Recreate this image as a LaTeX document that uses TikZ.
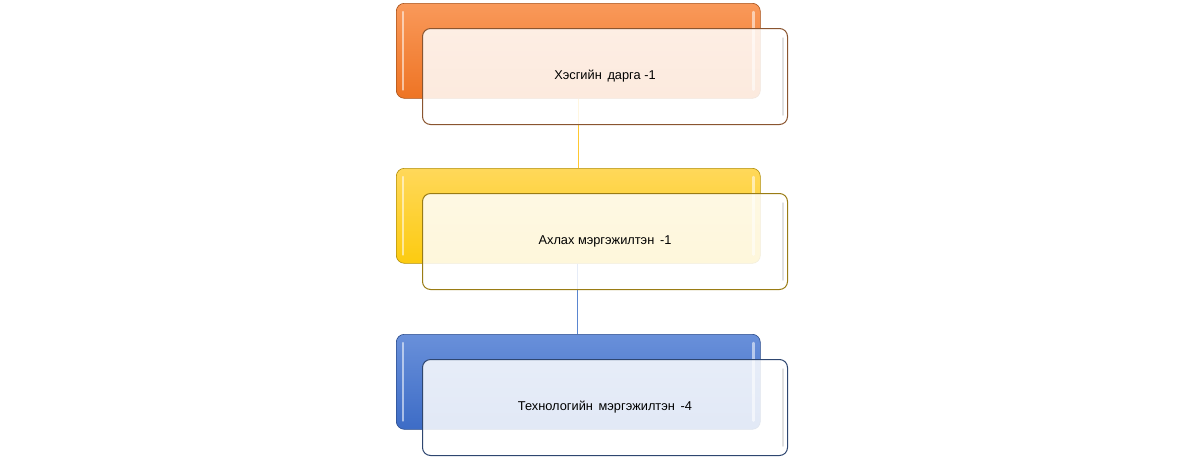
\documentclass[tikz,border=0pt]{standalone}
\usepackage{fontspec}
\setmainfont{Liberation Sans}
\definecolor{orA}{HTML}{F9995A}
\definecolor{orB}{HTML}{EE7424}
\definecolor{orE}{HTML}{8A5530}
\definecolor{yeA}{HTML}{FFD85A}
\definecolor{yeB}{HTML}{FCCB10}
\definecolor{yeE}{HTML}{9A7C14}
\definecolor{blA}{HTML}{6990DA}
\definecolor{blB}{HTML}{3D6CC6}
\definecolor{blE}{HTML}{2E4670}
\definecolor{lnY}{HTML}{FFC830}
\definecolor{lnB}{HTML}{5A86D0}
\tikzset{
  backbox/.style={rounded corners=8pt, minimum width=364pt, minimum height=95pt, inner sep=0pt, anchor=north west, draw=#1!70!black, line width=0.6pt},
  frontbox/.style={rounded corners=8pt, minimum width=365pt, minimum height=96pt, inner sep=0pt, anchor=north west, draw=#1, line width=1pt, fill=white, fill opacity=0.85, text opacity=1, font=\fontsize{12.8}{15}\selectfont},
  link/.style={line width=1.2pt}
}
\begin{document}
\begin{tikzpicture}[x=1pt,y=-1pt]
\useasboundingbox (0,0) rectangle (1181,459);
% back boxes
\node[backbox=orB, top color=orA, bottom color=orB] (b1) at (396,3) {};
\node[backbox=yeB, top color=yeA, bottom color=yeB] (b2) at (396,168) {};
\node[backbox=blB, top color=blA, bottom color=blB] (b3) at (396,334) {};
% gloss highlights
\foreach \b in {b1,b2,b3}{
  \draw[white, opacity=0.55, line width=2.5pt, line cap=round] ([xshift=7pt,yshift=-9pt]\b.north west) -- ([xshift=7pt,yshift=9pt]\b.south west);
  \draw[white, opacity=0.55, line width=2.5pt, line cap=round] ([xshift=-7pt,yshift=-9pt]\b.north east) -- ([xshift=-7pt,yshift=9pt]\b.south east);
}
% connectors
\coordinate (c1a) at (b1.south);
\coordinate (c1b) at (c1a |- b2.north);
\draw[link, lnY] (c1a) -- (c1b);
\coordinate (c2a) at ([xshift=-1pt]b2.south);
\coordinate (c2b) at (c2a |- b3.north);
\draw[link, lnB] (c2a) -- (c2b);
% front boxes
\node[frontbox=orE] (f1) at (422,28) {Хэсгийн\, дарга -1};
\node[frontbox=yeE] (f2) at (422,193) {Ахлах мэргэжилтэн\, -1};
\node[frontbox=blE] (f3) at (422,359) {Технологийн\, мэргэжилтэн\, -4};
% inner gloss of front boxes
\foreach \f in {f1,f2,f3}{
  \draw[gray!40, opacity=0.6, line width=1.5pt, line cap=round] ([xshift=-5pt,yshift=-10pt]\f.north east) -- ([xshift=-5pt,yshift=10pt]\f.south east);
}
\end{tikzpicture}
\end{document}
